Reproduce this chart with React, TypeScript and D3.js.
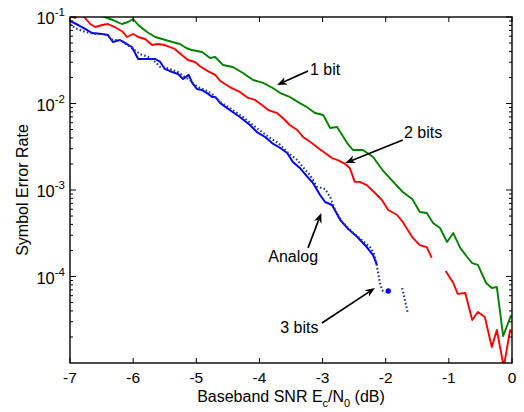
import React from 'react';
import * as d3 from 'd3';

const width = 524;
const height = 412;
const margin = { top: 17, right: 12, bottom: 49, left: 70 };
const font = '"Liberation Sans", Arial, sans-serif';

// x: baseband SNR Ec/N0 (dB), y: symbol error rate
const xTicks = [-7, -6, -5, -4, -3, -2, -1, 0];
const yLabelExps = [-1, -2, -3, -4];
const yMinorDecades = [-5, -4, -3, -2];

const oneBit: [number, number | null][] = [
  [-7.0, 0.138], [-6.71, 0.114], [-6.45, 0.1], [-6.32, 0.0923], [-6.18, 0.083], [-6.08, 0.0876],
  [-6.0, 0.0948], [-5.92, 0.0808], [-5.78, 0.0671], [-5.65, 0.0587], [-5.54, 0.0557], [-5.38, 0.0514],
  [-5.26, 0.0487], [-5.16, 0.0438], [-5.07, 0.0415], [-4.91, 0.0394], [-4.78, 0.0336], [-4.7, 0.0345],
  [-4.58, 0.0279], [-4.42, 0.0264], [-4.26, 0.0225], [-4.1, 0.0187], [-3.94, 0.0173], [-3.79, 0.0151],
  [-3.67, 0.0132], [-3.52, 0.0119], [-3.36, 0.0101], [-3.25, 0.00911], [-3.12, 0.00776], [-2.99, 0.00736],
  [-2.88, 0.00521], [-2.77, 0.00535], [-2.61, 0.00349], [-2.52, 0.0029], [-2.36, 0.0029], [-2.2, 0.00241],
  [-2.04, 0.00166], [-1.88, 0.00124], [-1.73, 0.000948], [-1.58, 0.000787], [-1.46, 0.000557],
  [-1.35, 0.000542], [-1.25, 0.000415], [-1.14, 0.000364], [-1.03, 0.000251], [-0.93, 0.000318],
  [-0.82, 0.000214], [-0.71, 0.000168], [-0.63, 0.000143], [-0.54, 0.000136], [-0.41, 8.41e-5],
  [-0.32, 7.36e-5], [-0.24, 7.56e-5], [-0.14, 2.05e-5], [-0.02, 3.49e-5], [0, 3.4e-5],
];

const twoBits: [number, number | null][] = [
  [-7.0, 0.104], [-6.92, 0.0974], [-6.84, 0.108], [-6.76, 0.0974], [-6.68, 0.083], [-6.6, 0.0766],
  [-6.49, 0.0808], [-6.4, 0.083], [-6.29, 0.0766], [-6.16, 0.0671], [-6.1, 0.0587], [-6.0, 0.0636],
  [-5.92, 0.0587], [-5.81, 0.0557], [-5.7, 0.0474], [-5.61, 0.0487], [-5.5, 0.0474], [-5.34, 0.0427],
  [-5.23, 0.0364], [-5.13, 0.0318], [-5.02, 0.0302], [-4.94, 0.027], [-4.81, 0.0235], [-4.7, 0.0214],
  [-4.62, 0.0182], [-4.47, 0.0155], [-4.31, 0.0136], [-4.18, 0.0116], [-4.07, 0.011], [-3.96, 0.00961],
  [-3.86, 0.00841], [-3.72, 0.00776], [-3.63, 0.0068], [-3.52, 0.00564], [-3.4, 0.00494], [-3.31, 0.0041],
  [-3.17, 0.00349], [-3.07, 0.00306], [-2.96, 0.00268], [-2.85, 0.00234], [-2.76, 0.00222], [-2.64, 0.002],
  [-2.57, 0.0018], [-2.49, 0.00124], [-2.41, 0.00124], [-2.3, 0.00114], [-2.17, 0.000923], [-2.06, 0.000766],
  [-1.96, 0.000587], [-1.82, 0.000514], [-1.73, 0.000427], [-1.65, 0.000345], [-1.57, 0.000279],
  [-1.46, 0.000231], [-1.35, 0.000219], [-1.27, 0.000164], [-1.15, null], [-1.05, 0.000116],
  [-0.93, 8.41e-5], [-0.86, 6.3e-5], [-0.74, 6.45e-5], [-0.63, 3.14e-5], [-0.54, 3.89e-5], [-0.43, 3.4e-5],
  [-0.32, 1.53e-5], [-0.24, 2.41e-5], [-0.13, 9e-6], [-0.03, 2.41e-5], [0, 2.22e-5],
];

const threeBits: [number, number | null][] = [
  [-7.0, 0.083], [-6.92, 0.0746], [-6.76, 0.0671], [-6.6, 0.0636], [-6.45, 0.0636], [-6.32, 0.0542],
  [-6.18, 0.0542], [-6.16, 0.0514], [-6.0, 0.0427], [-5.89, 0.0373], [-5.76, 0.0345], [-5.65, 0.0302],
  [-5.57, 0.0264], [-5.5, 0.0264], [-5.38, 0.0244], [-5.29, 0.0231], [-5.18, 0.0202], [-5.1, 0.0187],
  [-5.05, 0.0168], [-4.97, 0.0155], [-4.86, 0.0143], [-4.75, 0.0129], [-4.62, 0.0104], [-4.47, 0.00887],
  [-4.26, 0.00698], [-4.07, 0.0054], [-3.96, 0.00468], [-3.83, 0.00399], [-3.7, 0.00349], [-3.56, 0.00275],
  [-3.4, 0.00222], [-3.31, 0.00184], [-3.2, 0.00149], [-3.09, 0.00109], [-2.96, 0.00103], [-2.88, 0.00083],
  [-2.8, 0.000587], [-2.69, 0.000427], [-2.53, 0.000327], [-2.38, 0.000264], [-2.25, 0.000219],
  [-2.19, 0.000187], [-2.15, 0.000147], [-2.12, 0.00011], [-2.09, 8.41e-5], [-2.06, 6.98e-5],
  [-2.01, 6.45e-5], [-1.9, null], [-1.74, 7.36e-5], [-1.65, 3.79e-5],
];

const analog: [number, number | null][] = [
  [-7.0, 0.0899], [-6.87, 0.0808], [-6.76, 0.0727], [-6.65, 0.0653], [-6.49, 0.0636], [-6.4, 0.0619],
  [-6.32, 0.0514], [-6.21, 0.0542], [-6.13, 0.0501], [-6.02, 0.045], [-5.92, 0.0327], [-5.81, 0.0327],
  [-5.65, 0.0327], [-5.57, 0.0302], [-5.5, 0.0251], [-5.38, 0.0231], [-5.29, 0.0219], [-5.21, 0.0192],
  [-5.12, 0.0214], [-5.07, 0.0177], [-4.99, 0.0147], [-4.91, 0.0143], [-4.81, 0.0129], [-4.75, 0.0119],
  [-4.7, 0.0119], [-4.62, 0.0101], [-4.47, 0.00841], [-4.31, 0.00698], [-4.15, 0.00564], [-4.04, 0.00468],
  [-3.91, 0.0041], [-3.8, 0.00349], [-3.67, 0.00306], [-3.56, 0.00268], [-3.47, 0.00211], [-3.36, 0.0018],
  [-3.25, 0.00145], [-3.15, 0.0012], [-3.04, 0.000875], [-2.96, 0.000726], [-2.85, 0.000671],
  [-2.72, 0.00045], [-2.61, 0.000364], [-2.45, 0.000286], [-2.3, 0.000219], [-2.2, 0.000177],
  [-2.14, 0.000136],
];
const analogIsolated: [number, number][] = [[-1.96, 6.8e-5]];

// annotations: label, arrow tail, arrow tip, text anchor point (data coords)
const notes = [
  { label: '1 bit', tail: [-3.23, 0.0238], tip: [-3.72, 0.0164], at: [-3.2, 0.0214] },
  { label: '2 bits', tail: [-1.73, 0.00378], tip: [-2.64, 0.00205], at: [-1.71, 0.00399] },
  { label: 'Analog', tail: [-3.23, 0.000214], tip: [-3.02, 0.000542], at: [-3.86, 0.000147] },
  { label: '3 bits', tail: [-3.01, 2.9e-5], tip: [-2.17, 7.36e-5], at: [-3.67, 2.22e-5] },
];

const x = d3.scaleLinear().domain([-7, 0]).range([margin.left, width - margin.right]);
const y = d3.scaleLog().domain([1e-5, 1e-1]).range([height - margin.bottom, margin.top]);

const line = d3
  .line<[number, number | null]>()
  .defined((d) => d[1] != null)
  .x((d) => x(d[0]))
  .y((d) => y(d[1] as number));

function Arrow({ tail, tip }: { tail: number[]; tip: number[] }) {
  const x0 = x(tail[0]), y0 = y(tail[1]);
  const x1 = x(tip[0]), y1 = y(tip[1]);
  const a = Math.atan2(y1 - y0, x1 - x0);
  const len = 10, hw = 4, back = 7;
  const ux = Math.cos(a), uy = Math.sin(a);
  const px = -uy, py = ux;
  const head = [
    [x1, y1],
    [x1 - ux * len + px * hw, y1 - uy * len + py * hw],
    [x1 - ux * back, y1 - uy * back],
    [x1 - ux * len - px * hw, y1 - uy * len - py * hw],
  ];
  return (
    <g>
      <line x1={x0} y1={y0} x2={x1 - ux * back} y2={y1 - uy * back} stroke="#000" strokeWidth={1.7} />
      <polygon points={head.map((p) => p.join(',')).join(' ')} fill="#000" />
    </g>
  );
}

export default function App() {
  const [x0, x1] = x.range();
  const [yb, yt] = y.range();
  const minor: number[] = [];
  yMinorDecades.forEach((e) => {
    for (let m = 2; m <= 9; m++) minor.push(m * Math.pow(10, e));
  });

  return (
    <svg width={width} height={height} style={{ position: 'absolute', left: 0, top: 0, background: '#fff' }}>
      <defs>
        <clipPath id="plot">
          <rect x={x0} y={yt} width={x1 - x0} height={yb - yt} />
        </clipPath>
      </defs>
      <rect width={width} height={height} fill="#fff" />

      <g clipPath="url(#plot)" fill="none" strokeLinejoin="round">
        <path d={line(oneBit) || ''} stroke="#008000" strokeWidth={1.9} />
        <path d={line(twoBits) || ''} stroke="#ff0000" strokeWidth={1.9} />
        <path d={line(analog) || ''} stroke="#0000ff" strokeWidth={2} />
        <path d={line(threeBits) || ''} stroke="#1f3c8c" strokeWidth={2.1} strokeDasharray="1.6,2.2" />
        {analogIsolated.map((d, i) => (
          <circle key={i} cx={x(d[0])} cy={y(d[1])} r={2.7} fill="#0000ff" />
        ))}
      </g>

      {/* frame */}
      <rect x={x0} y={yt} width={x1 - x0} height={yb - yt} fill="none" stroke="#000" strokeWidth={1.4} />

      {/* x ticks */}
      {xTicks.map((t) => (
        <g key={t}>
          <line x1={x(t)} x2={x(t)} y1={yb} y2={yb - 5} stroke="#000" />
          <line x1={x(t)} x2={x(t)} y1={yt} y2={yt + 5} stroke="#000" />
          <text x={x(t)} y={yb + 20} textAnchor="middle" fontFamily={font} fontSize={15.5} fill="#000">
            {t}
          </text>
        </g>
      ))}

      {/* y ticks */}
      {yLabelExps.map((e) => {
        const v = Math.pow(10, e);
        return (
          <g key={e}>
            <line x1={x0} x2={x0 + 6} y1={y(v)} y2={y(v)} stroke="#000" />
            <line x1={x1} x2={x1 - 6} y1={y(v)} y2={y(v)} stroke="#000" />
            <text x={x0 - 5} y={y(v) + 7} textAnchor="end" fontFamily={font} fontSize={16.5} fill="#000">
              <tspan>10</tspan>
              <tspan dy={-8} fontSize={11.5}>{e}</tspan>
            </text>
          </g>
        );
      })}
      {minor.map((v) => (
        <g key={v}>
          <line x1={x0} x2={x0 + 3} y1={y(v)} y2={y(v)} stroke="#000" />
          <line x1={x1} x2={x1 - 3} y1={y(v)} y2={y(v)} stroke="#000" />
        </g>
      ))}

      {/* axis labels */}
      <text x={(x0 + x1) / 2} y={402} textAnchor="middle" fontFamily={font} fontSize={16} fill="#000">
        <tspan>Baseband SNR E</tspan>
        <tspan dy={5} fontSize={11}>c</tspan>
        <tspan dy={-5}>/N</tspan>
        <tspan dy={5} fontSize={11}>0</tspan>
        <tspan dy={-5}> (dB)</tspan>
      </text>
      <text
        transform={`translate(28,${(yb + yt) / 2}) rotate(-90)`}
        textAnchor="middle"
        fontFamily={font}
        fontSize={16}
        fill="#000"
      >
        Symbol Error Rate
      </text>

      {/* annotations */}
      {notes.map((n) => (
        <g key={n.label}>
          <Arrow tail={n.tail} tip={n.tip} />
          <text x={x(n.at[0])} y={y(n.at[1])} fontFamily={font} fontSize={16} fill="#000">
            {n.label}
          </text>
        </g>
      ))}
    </svg>
  );
}
